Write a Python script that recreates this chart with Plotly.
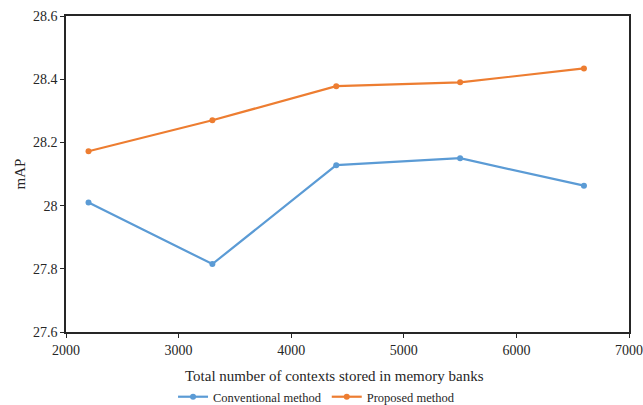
import plotly.graph_objects as go

# Total contexts stored in memory banks
contexts = [2200, 3300, 4400, 5500, 6600]

# mAP for each method
conventional_map = [28.01, 27.815, 28.128, 28.15, 28.063]
proposed_map = [28.172, 28.27, 28.378, 28.39, 28.434]

x_ticks = [2000, 3000, 4000, 5000, 6000, 7000]
y_ticks = [27.6, 27.8, 28.0, 28.2, 28.4, 28.6]
y_tick_text = ["27.6", "27.8", "28", "28.2", "28.4", "28.6"]

serif = "Liberation Serif"
ink = "#262626"

fig = go.Figure()
fig.add_trace(go.Scatter(
    x=contexts, y=conventional_map, mode="lines+markers",
    name="Conventional method",
    line=dict(color="#5B9BD5", width=2.2),
    marker=dict(color="#5B9BD5", size=6),
))
fig.add_trace(go.Scatter(
    x=contexts, y=proposed_map, mode="lines+markers",
    name="Proposed method",
    line=dict(color="#ED7D31", width=2.2),
    marker=dict(color="#ED7D31", size=6),
))

fig.update_layout(
    width=643, height=405,
    margin=dict(l=66, r=14, t=16, b=73, autoexpand=False),
    paper_bgcolor="white", plot_bgcolor="white",
    font=dict(family=serif, size=14, color=ink),
    showlegend=True,
    legend=dict(
        orientation="h", x=0.445, xanchor="center", y=-0.206, yanchor="middle",
        font=dict(family=serif, size=12.5, color=ink),
        itemwidth=30, tracegroupgap=0, bgcolor="rgba(0,0,0,0)",
    ),
    annotations=[dict(
        text="Total number of contexts stored in memory banks",
        xref="paper", yref="paper", x=(334 - 66) / 563, y=-44 / 316,
        xanchor="center", yanchor="middle", showarrow=False,
        font=dict(family=serif, size=15, color=ink),
    )],
)
fig.update_xaxes(
    range=[2000, 7000], tickvals=x_ticks,
    showgrid=False, zeroline=False, automargin=False,
    showline=True, linecolor=ink, linewidth=1.5, mirror=True,
    ticks="outside", ticklen=4, tickcolor=ink,
    tickfont=dict(family=serif, size=14, color=ink),
)
fig.update_yaxes(
    range=[27.6, 28.6], tickvals=y_ticks, ticktext=y_tick_text,
    showgrid=False, zeroline=False, automargin=False,
    showline=True, linecolor=ink, linewidth=1.5, mirror=True,
    ticks="outside", ticklen=4, tickcolor=ink,
    tickfont=dict(family=serif, size=14, color=ink),
    title=dict(text="mAP", font=dict(family=serif, size=15, color=ink), standoff=4),
)

fig.write_html("out.html")
